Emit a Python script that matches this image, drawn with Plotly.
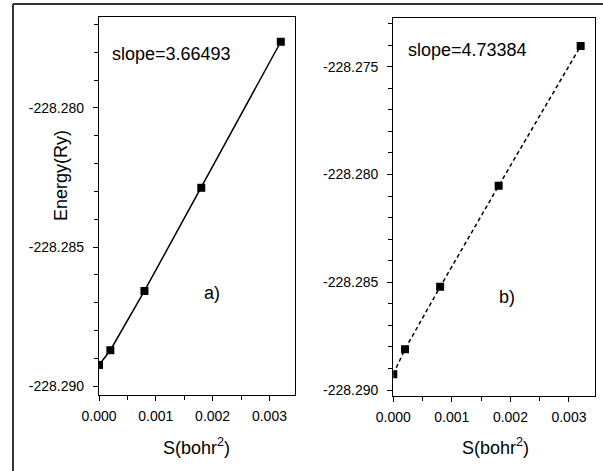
import plotly.graph_objects as go

W, H = 603, 471

# Data
s_a = [0.0, 0.0002, 0.0008, 0.0018, 0.0032]
e_a = [-228.28924, -228.28871, -228.28658, -228.28287, -228.27762]
s_b = [0.0, 0.0002, 0.0008, 0.0018, 0.0032]
e_b = [-228.28926, -228.28810, -228.28521, -228.28052, -228.27404]

x_tickvals = [0.0, 0.001, 0.002, 0.003]
x_ticktext = ["0.000", "0.001", "0.002", "0.003"]
ya_tickvals = [-228.280, -228.285, -228.290]
ya_ticktext = ["-228.280", "-228.285", "-228.290"]
yb_tickvals = [-228.275, -228.280, -228.285, -228.290]
yb_ticktext = ["-228.275", "-228.280", "-228.285", "-228.290"]

FONT = "Liberation Sans, Arial, sans-serif"


def px_x(p):
    return p / W


def px_y(p):
    return 1 - p / H


fig = go.Figure()
fig.add_trace(go.Scatter(x=s_a, y=e_a, mode="lines+markers", xaxis="x", yaxis="y",
                         line=dict(color="black", width=1.5),
                         marker=dict(symbol="square", size=8, color="black"),
                         showlegend=False))
fig.add_trace(go.Scatter(x=s_b, y=e_b, mode="lines+markers", xaxis="x2", yaxis="y2",
                         line=dict(color="black", width=1.5, dash="4px,3px"),
                         marker=dict(symbol="square", size=8, color="black"),
                         showlegend=False))

axcommon = dict(showgrid=False, zeroline=False, showline=True, linecolor="black",
                linewidth=1.3, mirror=True, ticks="outside", ticklen=5, tickwidth=1.3,
                tickcolor="black", automargin=False,
                tickfont=dict(family=FONT, size=14, color="black"))

minor_x = dict(dtick=0.0005, tick0=0, ticks="outside", ticklen=4, tickcolor="black", tickwidth=1.3)
minor_y = dict(dtick=0.001, tick0=-228.290, ticks="outside", ticklen=4, tickcolor="black", tickwidth=1.3)

fig.update_layout(
    width=W, height=H, margin=dict(l=0, r=0, t=0, b=0),
    paper_bgcolor="white", plot_bgcolor="white", template="none",
    xaxis=dict(domain=[px_x(99), px_x(295)], range=[0, 0.00345], anchor="y",
               tickvals=x_tickvals, ticktext=x_ticktext, minor=minor_x,
               ticklabelstandoff=3, **axcommon),
    yaxis=dict(domain=[px_y(395), px_y(17)], range=[-228.29032, -228.27673], anchor="x",
               tickvals=ya_tickvals, ticktext=ya_ticktext, minor=minor_y,
               ticklabelstandoff=6, **axcommon),
    xaxis2=dict(domain=[px_x(393.3), px_x(595.3)], range=[0, 0.00345], anchor="y2",
                tickvals=x_tickvals, ticktext=x_ticktext, minor=minor_x,
                ticklabelstandoff=3, **axcommon),
    yaxis2=dict(domain=[px_y(395.7), px_y(18)], range=[-228.29026, -228.27274], anchor="x2",
                tickvals=yb_tickvals, ticktext=yb_ticktext, minor=minor_y,
                ticklabelstandoff=6, **axcommon),
)

fnt = dict(family=FONT, size=18, color="black")
ann = [
    dict(text="Energy(Ry)", x=px_x(61), y=px_y(176), textangle=-90),
    dict(text="S(bohr<sup>2</sup>)", x=px_x(196.5), y=px_y(446)),
    dict(text="S(bohr<sup>2</sup>)", x=px_x(495), y=px_y(446)),
    dict(text="slope=3.66493", x=px_x(171.5), y=px_y(54)),
    dict(text="slope=4.73384", x=px_x(467), y=px_y(50)),
    dict(text="a)", x=px_x(212), y=px_y(293)),
    dict(text="b)", x=px_x(507), y=px_y(297)),
]
for a in ann:
    fig.add_annotation(xref="paper", yref="paper", showarrow=False,
                       xanchor="center", yanchor="middle", font=fnt, **a)

# outer frame (top and left edges)
fig.add_shape(type="line", xref="paper", yref="paper", x0=px_x(13), x1=1.01,
              y0=px_y(4), y1=px_y(4), line=dict(color="#333333", width=2))
fig.add_shape(type="line", xref="paper", yref="paper", x0=px_x(13), x1=px_x(13),
              y0=px_y(4), y1=-0.01, line=dict(color="#333333", width=2))

fig.write_html("out.html", config={"displayModeBar": False},
               post_script="document.body.style.margin='0';document.body.style.overflow='hidden';")
